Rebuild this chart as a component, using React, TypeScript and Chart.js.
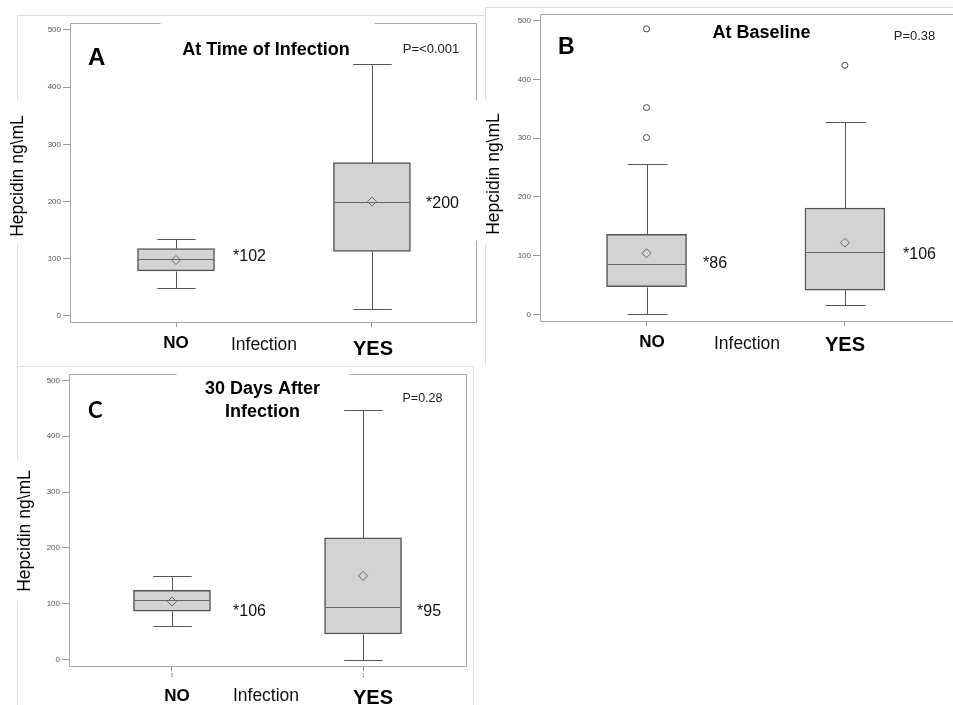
import React, { useEffect, useRef } from 'react';
import { Chart, registerables } from 'chart.js';

Chart.register(...registerables);
Chart.defaults.font.family = '"Liberation Sans", Arial, sans-serif';

// ---------- shared data ----------
const categories = ['NO', 'YES'];
const categoryX = [0, 1];
const xAxisTitle = 'Infection';
const yAxisTitle = 'Hepcidin ng\\mL';
const yTickValues = [0, 100, 200, 300, 400, 500];

// ---------- Panel A: At Time of Infection ----------
const aTitleLines = ['At Time of Infection'];
const aLetter = 'A';
const aPValue = 'P=<0.001';
const aWhiskerLow = [49, 13];
const aQ1 = [79, 113];
const aMedian = [99, 199];
const aQ3 = [118, 268];
const aWhiskerHigh = [134, 440];
const aMean = [98, 200];
const aOutliers: number[][] = [[], []];
const aMedianLabels = ['*102', '*200'];

// ---------- Panel B: At Baseline ----------
const bTitleLines = ['At Baseline'];
const bLetter = 'B';
const bPValue = 'P=0.38';
const bWhiskerLow = [0, 16];
const bQ1 = [47, 41];
const bMedian = [85, 106];
const bQ3 = [136, 181];
const bWhiskerHigh = [256, 327];
const bMean = [104, 122];
const bOutliers: number[][] = [[486, 352, 301], [424]];
const bMedianLabels = ['*86', '*106'];

// ---------- Panel C: 30 Days After Infection ----------
const cTitleLines = ['30 Days After', 'Infection'];
const cLetter = 'C';
const cPValue = 'P=0.28';
const cWhiskerLow = [61, 0];
const cQ1 = [87, 46];
const cMedian = [106, 94];
const cQ3 = [124, 218];
const cWhiskerHigh = [149, 446];
const cMean = [104, 150];
const cOutliers: number[][] = [[], []];
const cMedianLabels = ['*106', '*95'];

type Stats = {
  low: number[]; q1: number[]; med: number[]; q3: number[]; high: number[];
  mean: number[]; outliers: number[][]; medianLabels: string[];
  titleLines: string[]; letter: string; pValue: string;
};

type Layout = {
  left: number; top: number; width: number; height: number;
  area: { l: number; t: number; r: number; b: number };
  xRange: [number, number]; yRange: [number, number];
  barThickness: number; showXTickLabels: boolean;
  titleX: number; titleY: number[];
  pX: number; pY: number; pSize: number;
  letterX: number; letterY: number; letterFont: string;
  yTitleX: number; yTitleY: number;
  medX: number[]; medY: number[];
  catX: number[]; catY: number[]; catSize: number[];
  infX: number; infY: number;
  frames: { color: string; segs: number[][] }[];
};

const OUTER = '#dedede';
const PLOT = '#a8a8a8';

const layoutA: Layout = {
  left: 0, top: 0, width: 486, height: 365,
  area: { l: 70, t: 23, r: 476, b: 322 },
  xRange: [-0.541, 1.531], yRange: [-10.5, 512.2],
  barThickness: 77, showXTickLabels: false,
  titleX: 266, titleY: [55],
  pX: 431, pY: 53, pSize: 13,
  letterX: 88, letterY: 65, letterFont: 'bold 24px "Liberation Sans"',
  yTitleX: 18, yTitleY: 176,
  medX: [233, 426], medY: [261, 208],
  catX: [176, 373], catY: [348, 355], catSize: [17, 20],
  infX: 264, infY: 350,
  frames: [
    { color: OUTER, segs: [[17, 15, 485, 15], [17, 15, 17, 100], [17, 243, 17, 365], [17, 365, 485, 365]] },
    { color: PLOT, segs: [[70, 23, 70, 322], [70, 322, 476, 322], [476, 23, 476, 100], [476, 240, 476, 322], [70, 23, 160, 23], [374, 23, 476, 23]] },
  ],
};

const layoutB: Layout = {
  left: 470, top: 0, width: 483, height: 365,
  area: { l: 540, t: 14, r: 953, b: 321 },
  xRange: [-0.537, 1.517], yRange: [-11.4, 511.4],
  barThickness: 80, showXTickLabels: false,
  titleX: 761.5, titleY: [38],
  pX: 914.5, pY: 40, pSize: 13,
  letterX: 558, letterY: 54, letterFont: 'bold 23px "Liberation Sans"',
  yTitleX: 494, yTitleY: 174,
  medX: [703, 903], medY: [268, 259],
  catX: [652, 845], catY: [347, 351], catSize: [17, 20],
  infX: 747, infY: 349,
  frames: [
    { color: OUTER, segs: [[485, 7, 953, 7], [485, 7, 485, 100], [485, 243, 485, 365], [485, 365, 953, 365]] },
    { color: PLOT, segs: [[540, 14, 540, 321], [540, 321, 953, 321], [540, 14, 953, 14]] },
  ],
};

const layoutC: Layout = {
  left: 0, top: 365, width: 480, height: 340,
  area: { l: 69, t: 374, r: 466, b: 666 },
  xRange: [-0.539, 1.539], yRange: [-11.3, 511.3],
  barThickness: 77, showXTickLabels: true,
  titleX: 262.5, titleY: [394, 417],
  pX: 422.5, pY: 402, pSize: 12.5,
  letterX: 88, letterY: 418, letterFont: 'bold 22px Lato',
  yTitleX: 25, yTitleY: 531,
  medX: [233, 417], medY: [616, 616],
  catX: [177, 373], catY: [701, 704], catSize: [17, 20],
  infX: 266, infY: 701,
  frames: [
    { color: OUTER, segs: [[17, 366, 473, 366], [17, 366, 17, 460], [17, 600, 17, 705], [473, 366, 473, 705]] },
    { color: PLOT, segs: [[69, 374, 69, 666], [69, 666, 466, 666], [466, 374, 466, 666], [69, 374, 176, 374], [349, 374, 466, 374]] },
  ],
};

const panels: { key: string; L: Layout; S: Stats }[] = [
  { key: 'A', L: layoutA, S: { low: aWhiskerLow, q1: aQ1, med: aMedian, q3: aQ3, high: aWhiskerHigh, mean: aMean, outliers: aOutliers, medianLabels: aMedianLabels, titleLines: aTitleLines, letter: aLetter, pValue: aPValue } },
  { key: 'B', L: layoutB, S: { low: bWhiskerLow, q1: bQ1, med: bMedian, q3: bQ3, high: bWhiskerHigh, mean: bMean, outliers: bOutliers, medianLabels: bMedianLabels, titleLines: bTitleLines, letter: bLetter, pValue: bPValue } },
  { key: 'C', L: layoutC, S: { low: cWhiskerLow, q1: cQ1, med: cMedian, q3: cQ3, high: cWhiskerHigh, mean: cMean, outliers: cOutliers, medianLabels: cMedianLabels, titleLines: cTitleLines, letter: cLetter, pValue: cPValue } },
];

function makePlugin(L: Layout, S: Stats) {
  const px = (x: number) => x - L.left;
  const py = (y: number) => y - L.top;
  const text = (ctx: CanvasRenderingContext2D, s: string, x: number, y: number, font: string, align: CanvasTextAlign, color = '#000') => {
    ctx.font = font;
    ctx.fillStyle = color;
    ctx.textAlign = align;
    ctx.textBaseline = 'alphabetic';
    ctx.fillText(s, px(x), py(y));
  };
  return {
    id: 'panelDecor' + S.letter,
    beforeDatasetsDraw(chart: any) {
      const ctx: CanvasRenderingContext2D = chart.ctx;
      ctx.save();
      ctx.lineWidth = 1;
      for (const f of L.frames) {
        ctx.strokeStyle = f.color;
        ctx.beginPath();
        for (const [x1, y1, x2, y2] of f.segs) {
          ctx.moveTo(px(x1) + 0.5, py(y1) + 0.5);
          ctx.lineTo(px(x2) + 0.5, py(y2) + 0.5);
        }
        ctx.stroke();
      }
      ctx.restore();
    },
    afterDatasetDraw(chart: any, args: any) {
      if (args.index !== 0) return;
      const ctx: CanvasRenderingContext2D = chart.ctx;
      const y = chart.scales.y;
      const meta = chart.getDatasetMeta(0);
      ctx.save();
      ctx.lineWidth = 1;
      meta.data.forEach((bar: any, i: number) => {
        const { x, width } = bar.getProps(['x', 'width'], true);
        const cx = Math.round(x) + 0.5;
        const half = width / 2;
        const cap = width / 4;
        const yp = (v: number) => Math.round(y.getPixelForValue(v)) + 0.5;
        ctx.strokeStyle = '#555';
        ctx.beginPath();
        ctx.moveTo(cx, yp(S.q3[i])); ctx.lineTo(cx, yp(S.high[i]));
        ctx.moveTo(cx - cap, yp(S.high[i])); ctx.lineTo(cx + cap, yp(S.high[i]));
        ctx.moveTo(cx, yp(S.q1[i])); ctx.lineTo(cx, yp(S.low[i]));
        ctx.moveTo(cx - cap, yp(S.low[i])); ctx.lineTo(cx + cap, yp(S.low[i]));
        ctx.stroke();
        ctx.strokeStyle = '#666';
        ctx.beginPath();
        ctx.moveTo(x - half + 1, yp(S.med[i])); ctx.lineTo(x + half - 1, yp(S.med[i]));
        ctx.stroke();
      });
      ctx.restore();
    },
    afterDraw(chart: any) {
      const ctx: CanvasRenderingContext2D = chart.ctx;
      ctx.save();
      S.titleLines.forEach((t, i) => text(ctx, t, L.titleX, L.titleY[i], 'bold 18px "Liberation Sans"', 'center'));
      text(ctx, S.pValue, L.pX, L.pY, `${L.pSize}px "Liberation Sans"`, 'center', '#222');
      text(ctx, S.letter, L.letterX, L.letterY, L.letterFont, 'left');
      S.medianLabels.forEach((t, i) => text(ctx, t, L.medX[i], L.medY[i], '16px "Liberation Sans"', 'left', '#111'));
      categories.forEach((c, i) => text(ctx, c, L.catX[i], L.catY[i], `bold ${L.catSize[i]}px "Liberation Sans"`, 'center'));
      text(ctx, xAxisTitle, L.infX, L.infY, '17.5px "Liberation Sans"', 'center', '#111');
      ctx.translate(px(L.yTitleX), py(L.yTitleY));
      ctx.rotate(-Math.PI / 2);
      ctx.font = '17.5px "Liberation Sans"';
      ctx.fillStyle = '#000';
      ctx.textAlign = 'center';
      ctx.textBaseline = 'middle';
      ctx.fillText(yAxisTitle, 0, 0);
      ctx.restore();
    },
  };
}

function PanelChart({ L, S }: { L: Layout; S: Stats }) {
  const ref = useRef<HTMLCanvasElement>(null);
  useEffect(() => {
    const canvas = ref.current;
    if (!canvas) return;
    const outlierPoints: { x: number; y: number }[] = [];
    S.outliers.forEach((arr, i) => arr.forEach((v) => outlierPoints.push({ x: categoryX[i], y: v })));
    const chart = new Chart(canvas, {
      type: 'bar',
      data: {
        datasets: [
          {
            type: 'bar',
            label: 'IQR',
            data: categoryX.map((x, i) => ({ x, y: [S.q1[i], S.q3[i]] })) as any,
            backgroundColor: '#d3d3d3',
            borderColor: '#545454',
            borderWidth: 1.5,
            borderSkipped: false,
            barThickness: L.barThickness,
            order: 2,
          } as any,
          {
            type: 'scatter',
            label: 'Mean',
            data: categoryX.map((x, i) => ({ x, y: S.mean[i] })),
            pointStyle: 'rectRot',
            radius: 4.5,
            borderColor: '#666',
            backgroundColor: 'rgba(0,0,0,0)',
            borderWidth: 1,
            order: 1,
          } as any,
          {
            type: 'scatter',
            label: 'Outliers',
            data: outlierPoints,
            pointStyle: 'circle',
            radius: 3,
            borderColor: '#444',
            backgroundColor: 'rgba(0,0,0,0)',
            borderWidth: 1,
            order: 0,
          } as any,
        ],
      },
      options: {
        responsive: false,
        animation: false,
        devicePixelRatio: 1,
        events: [],
        layout: {
          padding: {
            left: 0,
            top: L.area.t - L.top,
            right: L.left + L.width - L.area.r,
            bottom: 0,
          },
        },
        plugins: {
          legend: { display: false },
          tooltip: { enabled: false },
          title: { display: false },
        },
        scales: {
          x: {
            type: 'linear',
            offset: false,
            min: L.xRange[0],
            max: L.xRange[1],
            afterBuildTicks: (s: any) => { s.ticks = categoryX.map((v) => ({ value: v })); },
            afterFit: (s: any) => { s.height = L.top + L.height - L.area.b; },
            ticks: {
              font: { size: 5 },
              color: L.showXTickLabels ? '#777' : 'rgba(0,0,0,0)',
              padding: 2,
              maxRotation: 0,
            },
            grid: { offset: false, drawOnChartArea: false, drawTicks: true, tickLength: 5, color: '#999' },
            border: { display: false },
          },
          y: {
            type: 'linear',
            min: L.yRange[0],
            max: L.yRange[1],
            afterBuildTicks: (s: any) => { s.ticks = yTickValues.map((v) => ({ value: v })); },
            afterFit: (s: any) => { s.width = L.area.l - L.left; },
            ticks: { font: { size: 8 }, color: '#555', padding: 2 },
            grid: { drawOnChartArea: false, drawTicks: true, tickLength: 7, color: '#999' },
            border: { display: false },
          },
        },
      } as any,
      plugins: [makePlugin(L, S) as any],
    });
    return () => chart.destroy();
  }, []);
  return (
    <canvas
      ref={ref}
      width={L.width}
      height={L.height}
      style={{ position: 'absolute', left: L.left, top: L.top, width: L.width, height: L.height }}
    />
  );
}

export default function App() {
  return (
    <div style={{ position: 'absolute', left: 0, top: 0, width: 953, height: 705, background: '#fff', overflow: 'hidden' }}>
      {panels.map((p) => (
        <PanelChart key={p.key} L={p.L} S={p.S} />
      ))}
    </div>
  );
}
